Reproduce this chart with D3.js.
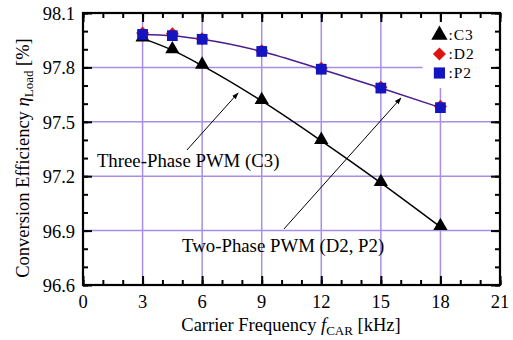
<!DOCTYPE html>
<html>
<head>
<meta charset="utf-8">
<script src="https://cdn.jsdelivr.net/npm/d3@7"></script>
<style>
  body { margin: 0; background: #fff; }
  svg text { font-family: "Liberation Serif", "DejaVu Serif", serif; }
</style>
</head>
<body>
<svg id="chart" width="513" height="340"></svg>
<script>
const freq = [3, 4.5, 6, 9, 12, 15, 18];
const c3 = [97.96, 97.895, 97.81, 97.615, 97.395, 97.163, 96.92];
const d2 = [97.99, 97.985, 97.958, 97.892, 97.795, 97.69, 97.585];
const p2 = [97.982, 97.975, 97.955, 97.888, 97.79, 97.686, 97.578];
const xTicks = [0, 3, 6, 9, 12, 15, 18, 21];
const yTicks = [96.6, 96.9, 97.2, 97.5, 97.8, 98.1];

const margin = { top: 13, right: 13, bottom: 55, left: 83 };
const svg = d3.select('#chart');
const width = +svg.attr('width') - margin.left - margin.right;
const height = +svg.attr('height') - margin.top - margin.bottom;
const g = svg.append('g').attr('transform', `translate(${margin.left},${margin.top})`);

const x = d3.scaleLinear().domain([0, 21]).range([0, width]);
const y = d3.scaleLinear().domain([96.6, 98.1]).range([height, 0]);
const gridColor = '#a98ee8';

// grid
g.append('g').selectAll('line').data(xTicks.slice(1, -1)).join('line')
  .attr('x1', d => x(d)).attr('x2', d => x(d)).attr('y1', 0).attr('y2', height)
  .attr('stroke', gridColor).attr('stroke-width', 1.5);
g.append('g').selectAll('line').data(yTicks.slice(1, -1)).join('line')
  .attr('x1', 0).attr('x2', width).attr('y1', d => y(d)).attr('y2', d => y(d))
  .attr('stroke', gridColor).attr('stroke-width', 1.5);

// legend background hides grid
g.append('rect').attr('x', x(17.1)).attr('y', 9).attr('width', x(20.8) - x(17.1)).attr('height', 66).attr('fill', '#fff');

// axes with inward ticks on all sides
const minorX = d3.range(0, 22, 1);
const minorY = d3.range(0, 16).map(i => 96.6 + i * 0.1);
const axX = (a, vals, len) => a.tickValues(vals).tickSize(-len).tickFormat('');
g.append('g').attr('transform', `translate(0,${height})`).call(axX(d3.axisBottom(x), minorX, 5));
g.append('g').attr('transform', `translate(0,${height})`).call(axX(d3.axisBottom(x), xTicks, 9));
g.append('g').call(axX(d3.axisTop(x), minorX, 5));
g.append('g').call(axX(d3.axisTop(x), xTicks, 9));
g.append('g').call(axX(d3.axisLeft(y), minorY, 5));
g.append('g').call(axX(d3.axisLeft(y), yTicks, 9));
g.append('g').attr('transform', `translate(${width},0)`).call(axX(d3.axisRight(y), minorY, 5));
g.append('g').attr('transform', `translate(${width},0)`).call(axX(d3.axisRight(y), yTicks, 9));
g.selectAll('.domain').remove();
g.selectAll('.tick line').attr('stroke', '#000').attr('stroke-width', 2);
g.append('rect').attr('width', width).attr('height', height)
  .attr('fill', 'none').attr('stroke', '#000').attr('stroke-width', 2.2);

// tick labels
g.append('g').selectAll('text').data(xTicks).join('text')
  .attr('x', d => x(d)).attr('y', height + 23).attr('text-anchor', 'middle')
  .attr('font-size', 18.5).text(d => d);
g.append('g').selectAll('text').data(yTicks).join('text')
  .attr('x', -8).attr('y', d => y(d) + 7).attr('text-anchor', 'end')
  .attr('font-size', 18.5).text(d => d.toFixed(1));

// axis titles
const xt = svg.append('text').attr('x', 291).attr('y', 331).attr('text-anchor', 'middle')
  .attr('font-size', 18.5);
xt.append('tspan').text('Carrier Frequency ');
xt.append('tspan').attr('font-style', 'italic').text('f');
xt.append('tspan').attr('dy', 4).attr('font-size', 13).text('CAR');
xt.append('tspan').attr('dy', -4).text(' [kHz]');

const yt = svg.append('text').attr('transform', 'translate(29,158) rotate(-90)').attr('text-anchor', 'middle')
  .attr('font-size', 18.5);
yt.append('tspan').text('Conversion Efficiency ');
yt.append('tspan').attr('font-style', 'italic').text('η');
yt.append('tspan').attr('dy', 4).attr('font-size', 13).text('Load');
yt.append('tspan').attr('dy', -4).text(' [%]');

// series
const line = d3.line().x((d, i) => x(freq[i])).y(d => y(d)).curve(d3.curveMonotoneX);
g.append('path').datum(c3).attr('d', line).attr('fill', 'none').attr('stroke', '#000').attr('stroke-width', 1.5);
g.append('path').datum(p2).attr('d', line).attr('fill', 'none').attr('stroke', '#4b1c8c').attr('stroke-width', 1.5);

const sym = (type, size) => d3.symbol().type(type).size(size)();
g.append('g').selectAll('path').data(c3).join('path')
  .attr('transform', (d, i) => `translate(${x(freq[i])},${y(d) - 1})`)
  .attr('d', sym(d3.symbolTriangle, 88)).attr('fill', '#000');
g.append('g').selectAll('path').data(d2).join('path')
  .attr('transform', (d, i) => `translate(${x(freq[i])},${y(d)}) rotate(45)`)
  .attr('d', sym(d3.symbolSquare, 85)).attr('fill', '#e0140f');
g.append('g').selectAll('path').data(p2).join('path')
  .attr('transform', (d, i) => `translate(${x(freq[i])},${y(d)})`)
  .attr('d', sym(d3.symbolSquare, 115)).attr('fill', '#1414c0');

// legend
const legend = [
  { name: 'C3', type: d3.symbolTriangle, size: 115, color: '#000' },
  { name: 'D2', type: d3.symbolSquare, size: 85, color: '#e0140f', rotate: 45 },
  { name: 'P2', type: d3.symbolSquare, size: 125, color: '#1414c0' }
];
const lg = g.append('g').attr('transform', `translate(${x(18) - 1},0)`);
legend.forEach((l, i) => {
  const cy = 22 + i * 19;
  lg.append('path').attr('transform', `translate(0,${cy}) rotate(${l.rotate || 0})`).attr('d', sym(l.type, l.size)).attr('fill', l.color);
  lg.append('text').attr('x', 9).attr('y', cy + 5).attr('font-size', 15.5).attr('letter-spacing', 1).text(':' + l.name);
});

// annotations
const defs = svg.append('defs');
defs.append('marker').attr('id', 'arr').attr('viewBox', '0 0 10 10').attr('refX', 9).attr('refY', 5)
  .attr('markerWidth', 7).attr('markerHeight', 7).attr('orient', 'auto')
  .append('path').attr('d', 'M0,1.5 L10,5 L0,8.5 Z').attr('fill', '#000');
const notes = [
  { text: 'Three-Phase PWM (C3)', tx: 0.7, ty: 97.251, from: [5.24, 97.345], to: [7.81, 97.659] },
  { text: 'Two-Phase PWM (D2, P2)', tx: 4.99, ty: 96.782, from: [10.12, 96.909], to: [16.01, 97.631] }
];
notes.forEach(n => {
  g.append('line').attr('x1', x(n.from[0])).attr('y1', y(n.from[1])).attr('x2', x(n.to[0])).attr('y2', y(n.to[1]))
    .attr('stroke', '#000').attr('stroke-width', 1).attr('marker-end', 'url(#arr)');
  g.append('text').attr('x', x(n.tx)).attr('y', y(n.ty)).attr('text-anchor', 'start')
    .attr('font-size', 18.8).text(n.text);
});
</script>
</body>
</html>
